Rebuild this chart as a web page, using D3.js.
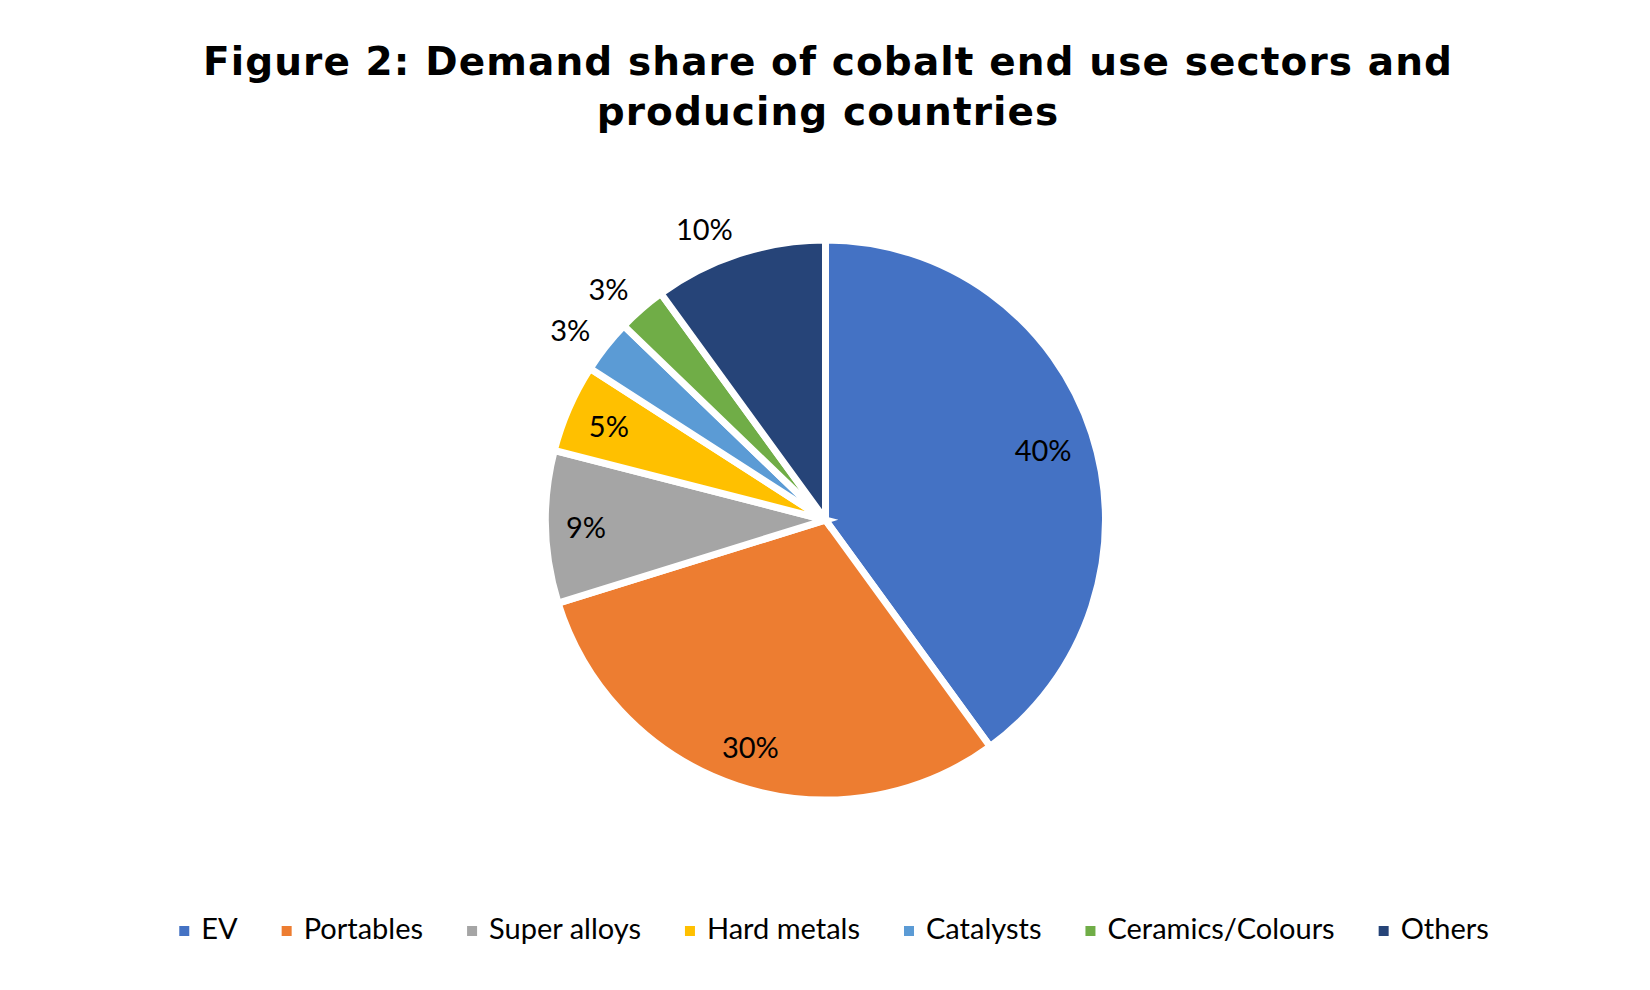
<!DOCTYPE html>
<html>
<head>
<meta charset="utf-8">
<script src="https://cdn.jsdelivr.net/npm/d3@7"></script>
<style>
  body { margin: 0; background: #fff; }
  svg { display: block; }
</style>
</head>
<body>
<div id="chart"></div>
<script>
const WIDTH = 1650;
const HEIGHT = 990;

// chart data
const TITLE_LINES = ["Figure 2: Demand share of cobalt end use sectors and", "producing countries"];
const categories = ["EV", "Portables", "Super alloys", "Hard metals", "Catalysts", "Ceramics/Colours", "Others"];
const shares = [40.0, 30.2, 8.8, 5.1, 3.1, 2.8, 10.0];
const labels = ["40%", "30%", "9%", "5%", "3%", "3%", "10%"];
const colors = ["#4472C4", "#ED7D31", "#A5A5A5", "#FFC000", "#5B9BD5", "#70AD47", "#264478"];

// labels Excel put outside the pie
const OUTSIDE = new Set(["Catalysts", "Ceramics/Colours", "Others"]);

const CX = 825.5, CY = 520;
const R = 280;
const LABEL_FONT = "Lato, 'Open Sans', sans-serif";

const svg = d3.select("#chart")
  .append("svg")
    .attr("width", WIDTH)
    .attr("height", HEIGHT);

svg.append("rect")
    .attr("width", WIDTH)
    .attr("height", HEIGHT)
    .attr("fill", "#fff");

// title
svg.append("g")
  .selectAll("text")
  .data(TITLE_LINES)
  .enter()
  .append("text")
    .attr("x", 828)
    .attr("y", (d, i) => 75 + i * 50)
    .attr("text-anchor", "middle")
    .attr("font-family", "'DejaVu Sans', Verdana, sans-serif")
    .attr("font-weight", "bold")
    .attr("font-size", 39)
    .attr("letter-spacing", 1.1)
    .attr("fill", "#000")
    .text(d => d);

const pieData = d3.pie()
    .sort(null)
    .value(d => d.value)(categories.map((c, i) => ({name: c, value: shares[i], label: labels[i], color: colors[i]})));

const arc = d3.arc().innerRadius(0).outerRadius(R);

const pieG = svg.append("g")
    .attr("transform", "translate(" + CX + "," + CY + ")");

pieG.selectAll("path")
  .data(pieData)
  .enter()
  .append("path")
    .attr("d", arc)
    .attr("fill", d => d.data.color)
    .attr("stroke", "#fff")
    .attr("stroke-width", 7)
    .attr("stroke-linejoin", "miter");

// data labels: inside ones sit a fixed gap in from the rim,
// outside ones hang off a point just past the rim (right-aligned on the left side)
const labelSel = pieG.selectAll("text.lbl")
  .data(pieData)
  .enter()
  .append("text")
    .attr("class", "lbl")
    .attr("font-family", LABEL_FONT)
    .attr("font-size", 29)
    .attr("fill", "#000")
    .attr("text-anchor", "middle")
    .attr("dominant-baseline", "central")
    .text(d => d.data.label);

labelSel.each(function(d) {
  const a = (d.startAngle + d.endAngle) / 2;
  const sx = Math.sin(a), sy = -Math.cos(a);
  const bb = this.getBBox();
  const hw = bb.width / 2, hh = bb.height / 2 * 0.75;
  const sel = d3.select(this);
  if (OUTSIDE.has(d.data.name)) {
    const dist = R + 20;
    sel.attr("text-anchor", sx < 0 ? "end" : "start")
       .attr("x", sx * dist)
       .attr("y", sy * dist + sy * hh * 0.5);
  } else {
    const proj = Math.abs(sx) * hw + Math.abs(sy) * hh;
    const dist = R - 20 - proj;
    sel.attr("x", sx * dist).attr("y", sy * dist);
  }
});

// legend
const legend = svg.append("g");
const items = legend.selectAll("g")
  .data(categories)
  .enter()
  .append("g");

items.append("rect")
    .attr("width", 10)
    .attr("height", 10)
    .attr("y", 926)
    .attr("fill", (d, i) => colors[i]);

items.append("text")
    .attr("x", 22)
    .attr("y", 939)
    .attr("font-family", LABEL_FONT)
    .attr("font-size", 29)
    .attr("fill", "#000")
    .text(d => d);

let offset = 0;
const pos = [];
items.each(function() {
  pos.push(offset);
  const w = d3.select(this).select("text").node().getComputedTextLength();
  offset += 22 + w + 44;
});
const total = offset - 44;
const startX = 834 - total / 2;
items.attr("transform", (d, i) => "translate(" + (startX + pos[i]) + ",0)");
</script>
</body>
</html>
